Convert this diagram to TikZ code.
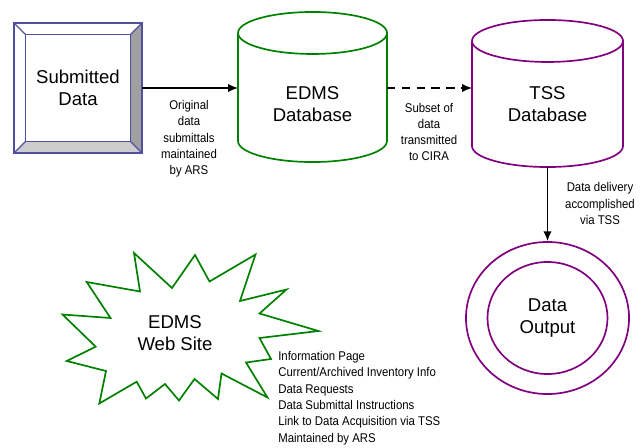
\documentclass[tikz,border=0pt]{standalone}
\usepackage{fontspec}
\setmainfont{Liberation Sans}
\newfontfamily\narrowfont[FakeStretch=0.9]{Liberation Sans}
\usepackage{tikz}
\usetikzlibrary{shapes.geometric, arrows.meta, positioning, calc}
\definecolor{edmsgreen}{RGB}{0, 128, 0}
\definecolor{tsspurple}{RGB}{128, 0, 128}
\definecolor{boxblue}{RGB}{80, 80, 160}
\definecolor{faceright}{RGB}{160, 160, 160}
\definecolor{facebottom}{RGB}{204, 204, 204}
\tikzset{
    bigtext/.style={
        align=center,
        font=\fontsize{13.2}{15.5}\selectfont
    },
    note/.style={
        align=center,
        inner sep=0pt,
        font=\narrowfont\fontsize{9}{11.6}\selectfont
    },
    dbbody/.style={
        rectangle,
        inner sep=0pt,
        outer sep=0pt
    },
    dbline/.style={
        line width=1.2pt
    },
    arrow/.style={
        line width=1.1pt,
        -{Latex[length=7pt, width=6pt]}
    }
}

\begin{document}
\begin{tikzpicture}[x=0.025cm, y=0.025cm]
        \useasboundingbox (0,0) rectangle (643,-447);

        % --- Submitted Data (bevelled box) ---
        \node (submitted) [dbbody, bigtext, minimum width=3.2cm, minimum height=3.25cm] at (78,-88) {Submitted\\Data};
        \fill[faceright] (submitted.north east) -- (submitted.south east) -- ($(submitted.south east)+(-11.5,11.5)$) -- ($(submitted.north east)+(-11.5,-11.5)$) -- cycle;
        \fill[facebottom] (submitted.south west) -- (submitted.south east) -- ($(submitted.south east)+(-11.5,11.5)$) -- ($(submitted.south west)+(11.5,11.5)$) -- cycle;
        \draw[boxblue, line width=0.9pt] (submitted.north west) rectangle (submitted.south east);
        \draw[boxblue, line width=0.9pt] ($(submitted.north west)+(11.5,-11.5)$) rectangle ($(submitted.south east)+(-11.5,11.5)$);
        \draw[boxblue, line width=0.9pt] (submitted.north west) -- ++(11.5,-11.5);
        \draw[boxblue, line width=0.9pt] (submitted.north east) -- ++(-11.5,-11.5);
        \draw[boxblue, line width=0.9pt] (submitted.south west) -- ++(11.5,11.5);
        \draw[boxblue, line width=0.9pt] (submitted.south east) -- ++(-11.5,11.5);

        % --- EDMS Database (cylinder) ---
        \node (edms) [dbbody, minimum width=3.725cm, minimum height=3.75cm,
            label={[bigtext, yshift=-0.42cm]center:EDMS\\Database}] at (312.5,-87) {};
        \draw[dbline, edmsgreen] ($(edms.north west)+(0,-21)$) -- ($(edms.south west)+(0,21)$)
            arc[start angle=180, end angle=360, x radius=74.5, y radius=21]
            -- ($(edms.north east)+(0,-21)$)
            arc[start angle=0, end angle=360, x radius=74.5, y radius=21];

        % --- TSS Database (cylinder) ---
        \node (tss) [dbbody, minimum width=3.775cm, minimum height=3.675cm,
            label={[bigtext, yshift=-0.26cm]center:TSS\\Database}] at (547.5,-93.5) {};
        \draw[dbline, tsspurple] ($(tss.north west)+(0,-21)$) -- ($(tss.south west)+(0,21)$)
            arc[start angle=180, end angle=360, x radius=75.5, y radius=21]
            -- ($(tss.north east)+(0,-21)$)
            arc[start angle=0, end angle=360, x radius=75.5, y radius=21];

        % --- Data Output (double ellipse) ---
        \node (output) [ellipse, draw=tsspurple, dbline, minimum width=4.075cm, minimum height=3.8cm] at (547.5,-318) {};
        \node (outputin) [ellipse, draw=tsspurple, dbline, bigtext, minimum width=3cm, minimum height=2.8cm] at (output.center) {Data\\Output};

        % --- EDMS Web Site (starburst) ---
        \node (website) [bigtext] at (175,-333) {EDMS\\Web Site};
        \draw[edmsgreen, dbline, line join=miter] (134,-253) -- (172,-288) -- (195,-255) -- (209.5,-281.5)
            -- (255.5,-254.5) -- (240,-301) -- (286.5,-289.5) -- (259.5,-313.5) -- (318.5,-331)
            -- (259.5,-338) -- (271,-359) -- (246,-362.5) -- (267.5,-397.5) -- (221.5,-373.5)
            -- (218,-399) -- (194.5,-379) -- (179,-400.5) -- (165,-384) -- (146,-398.5)
            -- (136.7,-381.7) -- (99.3,-403.5) -- (106,-371) -- (66.7,-361) -- (95.7,-346.7)
            -- (62.5,-314.5) -- (110.5,-318) -- (86.7,-282) -- (140,-291.5) -- cycle;

        % --- labels ---
        \node (origlbl) [note] at (189,-139) {Original\\data\\submittals\\maintained\\by ARS};
        \node (subsetlbl) [note] at (429,-132) {Subset of\\data\\transmitted\\to CIRA};
        \node (deliverlbl) [note] at (600,-203.5) {Data delivery\\accomplished\\via TSS};
        \node (sitelist) [note, align=left, anchor=west] at (278,-398) {Information Page\\Current/Archived Inventory Info\\Data Requests\\Data Submittal Instructions\\Link to Data Acquisition via TSS\\Maintained by ARS};

        % --- connectors ---
        \draw [arrow] (submitted.east) -- (submitted.east -| edms.west);
        \draw [arrow, dashed, dash pattern=on 6pt off 4.5pt] (edms.east |- submitted.east) -- (tss.west |- submitted.east);
        \draw [arrow] (tss.south) -- (output.north);
\end{tikzpicture}
\end{document}
